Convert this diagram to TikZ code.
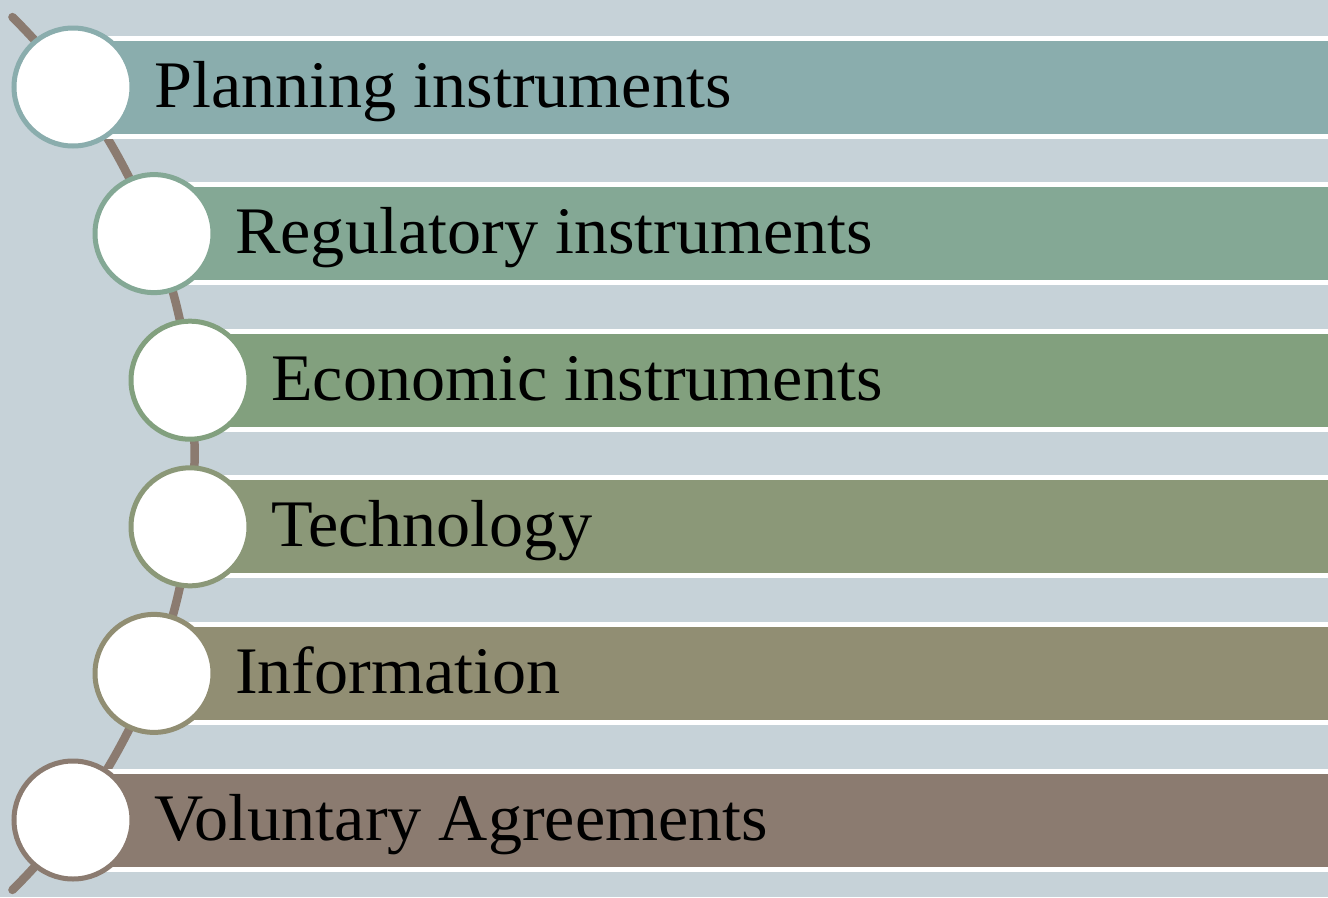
\documentclass[tikz,border=0pt]{standalone}
\usepackage{fontspec}
\setmainfont{Liberation Serif}[FakeStretch=1.025]
\definecolor{bgcol}{HTML}{C6D2D8}
\definecolor{curvecol}{HTML}{8B7B70}
\definecolor{colA}{HTML}{8AADAD}
\definecolor{colB}{HTML}{84A895}
\definecolor{colC}{HTML}{82A07E}
\definecolor{colD}{HTML}{8B9878}
\definecolor{colE}{HTML}{918E73}
\definecolor{colF}{HTML}{8B7B70}
\tikzset{
  dot/.style={circle, fill=white, draw=#1, line width=5pt, minimum size=118pt, inner sep=0pt},
  label/.style={anchor=base west, inner sep=0pt, font=\fontsize{66.5}{70}\selectfont, text=black},
  spine/.style={curvecol, line width=8.5pt, line cap=round}
}
\begin{document}
\begin{tikzpicture}[x=1pt,y=-1pt]
  \fill[bgcol] (0,0) rectangle (1328,897);
  \useasboundingbox (0,0) rectangle (1328,897);
  % curved spine behind the circles
  \coordinate (hub) at (-419.4,453.5);
  \draw[spine] (hub) ++(-45.3:614) arc[start angle=-45.3, end angle=45.3, radius=614];
  % bars, circles and labels
  \foreach \cx/\cy/\col/\txt/\nm in {
      73/87/colA/Planning instruments/plan,
      154/233.6/colB/Regulatory instruments/reg,
      190/380.2/colC/Economic instruments/eco,
      190/526.8/colD/Technology/tech,
      154/673.4/colE/Information/info,
      73/820/colF/Voluntary Agreements/vol} {
    \fill[white] (\cx,\cy-51.5) rectangle (1330,\cy+51.5);
    \fill[\col] (\cx,\cy-46.5) rectangle (1330,\cy+46.5);
    \node[dot=\col] (c-\nm) at (\cx,\cy) {};
    \node[label] (t-\nm) at (\cx+81,\cy+20) {\txt};
  }
\end{tikzpicture}
\end{document}
